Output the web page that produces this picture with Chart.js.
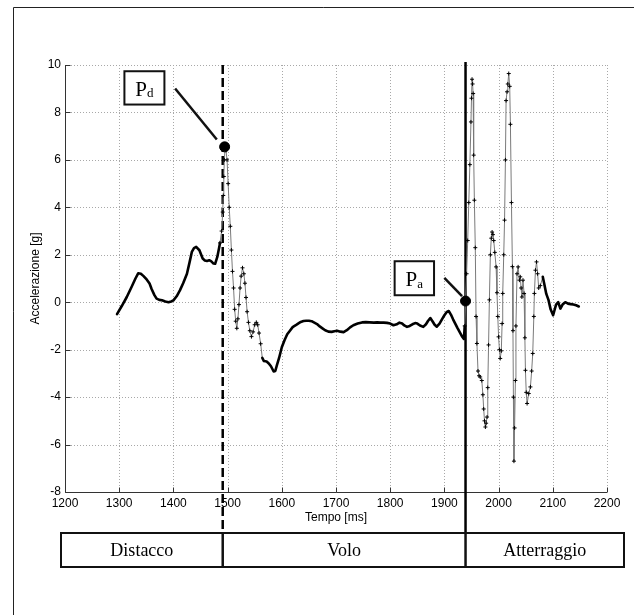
<!DOCTYPE html>
<html>
<head>
<meta charset="utf-8">
<script src="https://cdn.jsdelivr.net/npm/chart.js@4.4.1/dist/chart.umd.min.js"></script>
<style>
  html, body { margin: 0; padding: 0; background: #fff; }
  #wrap { width: 634px; height: 615px; position: relative; }
</style>
</head>
<body>
<div id="wrap"><canvas id="c" width="634" height="615"></canvas></div>
<script>
// ---------------- DATA ----------------
const timeMs = [
  1296,1305,1314,1323,1330,1335,1340,1345,1351,1356,1360,1365,1369,1374,1379,1385,1391,1396,1400,1406,
  1412,1418,1425,1430,1434,1438,1442,1448,1454,1458,1462,1466,1470,1474,1477,1481,1484,1486,1489,1491,
  1492,1493,1494,1495.5,1497,1499,1501,1503,1505,1507,1509,1511,1513,1515,1517,1519,1521,1523,1525,1527.5,
  1530,1532,1534,1536,1538.5,1541,1544,1547,1550,1553,1555.5,1558,1561,1564,1567,1572,1576,1580,1585,1588,
  1591,1595,1600,1605,1610,1615,1620,1625,1630,1635,1640,1645,1650,1655,1660,1665,1670,1675,1680,1686,
  1692,1697,1702,1708,1714,1720,1726,1732,1740,1748,1755,1762,1770,1776,1782,1788,1794,1800,1806,1812,
  1817,1822,1826,1831,1836,1841,1846,1850,1855,1861,1866,1870,1874,1878,1882,1886,1891,1896,1900,1904,
  1908,1912,1916,1920,1924,1928,1932,1936,1937.5,1939,1941,1943,1945,1947,1949,1950,1951,1952,1953,1954,
  1955.3,1957,1958.4,1960,1962,1964,1966,1969,1971,1972.5,1974,1975.6,1977,1978.7,1980,1981.5,1983,1984.8,1986.5,1988,
  1989.5,1991,1993,1995.4,1997,1998.5,2000,2001.5,2003,2005,2006.5,2007.6,2009.5,2011,2012.6,2013.8,2015.6,2017,2018.7,2020.5,
  2021.8,2023.7,2025.5,2026.5,2027.3,2028.3,2029.5,2031,2032,2034,2036,2038.4,2040,2041.5,2043,2045,2047,2048.5,2049.5,2051,
  2052.6,2055.6,2058.7,2061,2063,2065,2066,2068,2070,2072,2074,2077,2081.5,2084,2088,2092,2096,2100.6,2103,2106,
  2110,2114,2118,2123,2128,2133,2138,2143,2148
];
const accelG = [
  -0.5,-0.15,0.22,0.65,1.0,1.22,1.2,1.1,0.95,0.79,0.55,0.3,0.15,0.1,0.08,0.03,0.0,0.03,0.08,0.25,
  0.5,0.8,1.2,1.7,2.12,2.28,2.33,2.19,1.84,1.76,1.74,1.77,1.72,1.63,1.62,1.91,2.25,2.5,3.0,3.8,
  4.5,5.3,6.0,6.6,6.4,6.0,5.0,4.0,3.2,2.2,1.3,0.6,-0.3,-0.8,-1.1,-0.7,-0.1,0.6,1.1,1.45,
  1.2,0.8,0.2,-0.4,-0.85,-1.2,-1.45,-1.25,-0.95,-0.85,-0.95,-1.3,-1.75,-2.35,-2.48,-2.5,-2.58,-2.7,-2.92,-2.9,
  -2.65,-2.35,-1.9,-1.6,-1.35,-1.2,-1.05,-0.98,-0.9,-0.83,-0.79,-0.78,-0.78,-0.8,-0.86,-0.92,-1.02,-1.1,-1.18,-1.24,
  -1.25,-1.22,-1.2,-1.24,-1.26,-1.18,-1.06,-0.97,-0.9,-0.85,-0.84,-0.85,-0.86,-0.85,-0.86,-0.86,-0.87,-0.9,-0.97,-0.93,
  -0.86,-0.9,-0.98,-1.04,-1.0,-0.93,-0.88,-0.9,-0.98,-1.04,-0.93,-0.78,-0.67,-0.8,-0.95,-1.03,-0.9,-0.7,-0.55,-0.42,
  -0.37,-0.52,-0.72,-0.9,-1.08,-1.25,-1.42,-1.55,-1.0,0.05,1.2,2.6,4.2,5.8,7.6,8.6,9.4,9.2,8.8,6.2,
  4.3,2.3,-0.6,-1.74,-2.9,-3.1,-3.15,-3.3,-3.9,-4.5,-5.0,-5.26,-5.1,-4.84,-3.6,-1.8,0.1,2.0,2.7,2.96,
  2.85,2.6,2.1,1.49,0.4,-0.6,-1.46,-2.0,-2.37,-2.05,-0.9,0.37,2.0,3.46,6.0,8.5,8.87,9.2,9.64,9.1,
  7.5,4.2,1.5,-1.2,-4.0,-6.7,-5.3,-3.3,-1.0,1.2,1.49,0.93,1.07,0.6,0.22,0.93,0.37,-1.5,-2.87,-3.8,
  -4.27,-3.85,-3.57,-2.9,-2.16,-0.6,0.37,1.35,1.7,1.2,0.6,0.7,1.07,0.8,0.35,0.1,-0.3,-0.55,-0.35,-0.1,
  0.0,-0.27,-0.1,0.0,-0.06,-0.08,-0.1,-0.13,-0.18
];
const xTickValues = [1200,1300,1400,1500,1600,1700,1800,1900,2000,2100,2200];
const yTickValues = [-8,-6,-4,-2,0,2,4,6,8,10];
const phaseNames = ['Distacco','Volo','Atterraggio'];
const takeoffTime = 1491;   // Distacco -> Volo boundary (dashed)
const landingTime = 1939;   // Volo -> Atterraggio boundary (solid)
const markerNames = ['d','a'];          // P_d, P_a
const markerTimes = [1494.5, 1939];
const markerValues = [6.55, 0.05];

// ---------------- STYLE ----------------
const fastRanges = [[1486, 1562], [1937, 2080]];
function isFast(x) { return fastRanges.some(r => x >= r[0] && x < r[1]); }
const boxLeftPx = 61, boxRightPx = 624, boxTopPx = 533, boxBottomPx = 567;

const series = timeMs.map((t, i) => ({ x: t, y: accelG[i] }));
const markers = markerTimes.map((t, i) => ({ x: t, y: markerValues[i] }));

const decorPlugin = {
  id: 'decor',
  beforeDatasetsDraw(chart) {
    const { ctx, chartArea: a, scales: { x, y } } = chart;
    ctx.save();
    // dotted grid
    ctx.strokeStyle = '#a8a8a8';
    ctx.lineWidth = 1;
    ctx.setLineDash([1, 2]);
    xTickValues.forEach(v => {
      const px = Math.round(x.getPixelForValue(v)) + 0.5;
      ctx.beginPath(); ctx.moveTo(px, a.top); ctx.lineTo(px, a.bottom); ctx.stroke();
    });
    yTickValues.forEach(v => {
      const py = Math.round(y.getPixelForValue(v)) + 0.5;
      ctx.beginPath(); ctx.moveTo(a.left, py); ctx.lineTo(a.right, py); ctx.stroke();
    });
    ctx.setLineDash([]);
    // axes lines + inward ticks
    ctx.strokeStyle = '#333';
    const L = Math.round(a.left) + 0.5, B = Math.round(a.bottom) + 0.5;
    ctx.beginPath(); ctx.moveTo(L, a.top); ctx.lineTo(L, B); ctx.lineTo(a.right, B); ctx.stroke();
    xTickValues.forEach(v => {
      const px = Math.round(x.getPixelForValue(v)) + 0.5;
      ctx.beginPath(); ctx.moveTo(px, B); ctx.lineTo(px, B - 5); ctx.stroke();
    });
    yTickValues.forEach(v => {
      const py = Math.round(y.getPixelForValue(v)) + 0.5;
      ctx.beginPath(); ctx.moveTo(L, py); ctx.lineTo(L + 5, py); ctx.stroke();
    });
    // phase boundary lines
    const xd = x.getPixelForValue(takeoffTime);
    const xl = x.getPixelForValue(landingTime);
    ctx.strokeStyle = '#000';
    ctx.lineWidth = 2.5;
    ctx.setLineDash([9, 4]);
    ctx.beginPath(); ctx.moveTo(xd, a.top); ctx.lineTo(xd, boxTopPx); ctx.stroke();
    ctx.setLineDash([]);
    ctx.beginPath(); ctx.moveTo(xl, a.top - 3); ctx.lineTo(xl, boxTopPx); ctx.stroke();
    ctx.restore();
  },
  afterDraw(chart) {
    const { ctx, scales: { x, y } } = chart;
    ctx.save();
    // outer frame (left & top)
    ctx.strokeStyle = '#222';
    ctx.lineWidth = 1;
    ctx.beginPath(); ctx.moveTo(13.5, 615); ctx.lineTo(13.5, 7.5); ctx.lineTo(634, 7.5); ctx.stroke();

    // phase boxes
    const xd = x.getPixelForValue(takeoffTime);
    const xl = x.getPixelForValue(landingTime);
    ctx.strokeStyle = '#111';
    ctx.lineWidth = 2;
    ctx.strokeRect(boxLeftPx, boxTopPx, boxRightPx - boxLeftPx, boxBottomPx - boxTopPx);
    ctx.lineWidth = 2.5;
    [xd, xl].forEach(px => {
      ctx.beginPath(); ctx.moveTo(px, boxTopPx); ctx.lineTo(px, boxBottomPx); ctx.stroke();
    });
    const edges = [boxLeftPx, xd, xl, boxRightPx];
    ctx.fillStyle = '#000';
    ctx.font = '18px "Liberation Serif", "Times New Roman", serif';
    ctx.textAlign = 'center';
    ctx.textBaseline = 'middle';
    phaseNames.forEach((n, i) => {
      ctx.fillText(n, (edges[i] + edges[i + 1]) / 2, (boxTopPx + boxBottomPx) / 2 + 1);
    });

    // annotation boxes + leaders
    const ann = [
      { box: [-100.2, -75.6, 40, 33.3], l0: [-49.5, -58.3], l1: [-7.8, -7.3] },
      { box: [-70.9, -39.8, 39.4, 34], l0: [-21.2, -23.1], l1: [-3.5, -4.8] }
    ];
    markers.forEach((m, i) => {
      const px = x.getPixelForValue(m.x), py = y.getPixelForValue(m.y);
      const a = ann[i];
      const bx = px + a.box[0], by = py + a.box[1], bw = a.box[2], bh = a.box[3];
      ctx.fillStyle = '#fff';
      ctx.fillRect(bx, by, bw, bh);
      ctx.strokeStyle = '#111';
      ctx.lineWidth = 2;
      ctx.strokeRect(bx, by, bw, bh);
      ctx.lineWidth = 2.5;
      ctx.beginPath(); ctx.moveTo(px + a.l0[0], py + a.l0[1]); ctx.lineTo(px + a.l1[0], py + a.l1[1]); ctx.stroke();
      ctx.fillStyle = '#000';
      ctx.textAlign = 'left';
      ctx.textBaseline = 'alphabetic';
      ctx.font = '21px "Liberation Serif", "Times New Roman", serif';
      const pw = ctx.measureText('P').width;
      ctx.font = '13px "Liberation Serif", "Times New Roman", serif';
      const sw = ctx.measureText(markerNames[i]).width;
      const tx = bx + (bw - pw - sw) / 2;
      const base = by + bh * 0.74;
      ctx.font = '21px "Liberation Serif", "Times New Roman", serif';
      ctx.fillText('P', tx, base);
      ctx.font = '13px "Liberation Serif", "Times New Roman", serif';
      ctx.fillText(markerNames[i], tx + pw, base + 1.5);
    });
    ctx.restore();
  }
};

new Chart(document.getElementById('c'), {
  type: 'scatter',
  data: {
    datasets: [
      {
        data: markers,
        showLine: false,
        pointRadius: 5,
        pointHoverRadius: 5,
        pointBackgroundColor: '#000',
        pointBorderColor: '#000',
        pointBorderWidth: 1,
        order: 0
      },
      {
        data: series,
        showLine: true,
        borderColor: '#000',
        borderWidth: 2.6,
        borderCapStyle: 'round',
        borderJoinStyle: 'round',
        tension: 0,
        segment: {
          borderColor: c => isFast(c.p0.parsed.x) ? '#7a7a7a' : '#000',
          borderWidth: c => isFast(c.p0.parsed.x) ? 1 : 2.6
        },
        pointStyle: 'cross',
        pointRadius: c => (c.raw && isFast(c.raw.x)) ? 2 : 0,
        pointHoverRadius: 0,
        pointBorderColor: '#000',
        pointBorderWidth: 1,
        order: 1
      }
    ]
  },
  options: {
    responsive: false,
    animation: false,
    devicePixelRatio: 1,
    events: [],
    layout: { padding: { left: 0, right: 27, top: 65, bottom: 0 } },
    plugins: { legend: { display: false }, tooltip: { enabled: false } },
    scales: {
      x: {
        type: 'linear',
        min: 1200, max: 2200,
        afterBuildTicks: s => { s.ticks = xTickValues.map(v => ({ value: v })); },
        afterFit: s => { s.height = 123; },
        grid: { display: false, drawTicks: false },
        border: { display: false },
        ticks: {
          autoSkip: false, maxRotation: 0, padding: 4, color: '#000',
          callback: v => String(v),
          font: { family: '"Liberation Sans", Arial, sans-serif', size: 12 }
        },
        title: {
          display: true, text: 'Tempo [ms]', color: '#000',
          font: { family: '"Liberation Sans", Arial, sans-serif', size: 12 },
          padding: { top: 0, bottom: 90 }
        }
      },
      y: {
        type: 'linear',
        min: -8, max: 10,
        afterBuildTicks: s => { s.ticks = yTickValues.map(v => ({ value: v })); },
        afterFit: s => { s.width = 65; },
        grid: { display: false, drawTicks: false },
        border: { display: false },
        ticks: {
          autoSkip: false, padding: 4, color: '#000',
          callback: v => String(v),
          font: { family: '"Liberation Sans", Arial, sans-serif', size: 12 }
        },
        title: {
          display: true, text: 'Accelerazione [g]', color: '#000',
          font: { family: '"Liberation Sans", Arial, sans-serif', size: 12 },
          padding: { top: 28, bottom: 0 }
        }
      }
    }
  },
  plugins: [decorPlugin]
});
</script>
</body>
</html>
